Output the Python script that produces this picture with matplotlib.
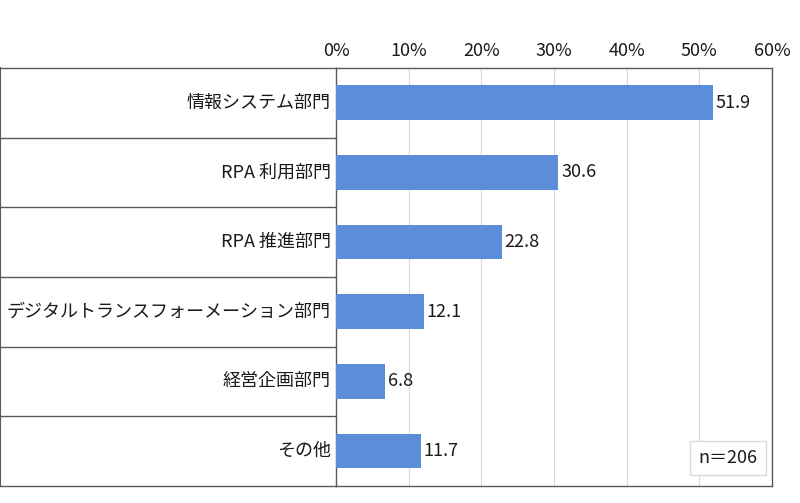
import matplotlib.pyplot as plt
from matplotlib.lines import Line2D

plt.rcParams['font.family'] = ['Noto Sans CJK JP', 'DejaVu Sans']

categories = ['情報システム部門', 'RPA 利用部門', 'RPA 推進部門',
              'デジタルトランスフォーメーション部門', '経営企画部門', 'その他']
values = [51.9, 30.6, 22.8, 12.1, 6.8, 11.7]
ticks = [0, 10, 20, 30, 40, 50, 60]
tick_labels = ['0%', '10%', '20%', '30%', '40%', '50%', '60%']
note = 'n＝206'

bar_color = '#5B8DD9'
frame_color = '#595959'
text_color = '#1a1a1a'
fs = 13

fig = plt.figure(figsize=(8, 5.03), dpi=100)
ax = fig.add_axes([0.42, 0.034, 0.545, 0.831])

y = list(range(len(categories)))
ax.barh(y, values, height=0.5, color=bar_color, zorder=3)
ax.set_ylim(len(categories) - 0.5, -0.5)
ax.set_xlim(0, 60)

ax.xaxis.tick_top()
ax.set_xticks(ticks)
ax.set_xticklabels(tick_labels, fontsize=fs, color=text_color)
ax.tick_params(axis='x', length=0, pad=6)
ax.set_yticks([])
ax.grid(axis='x', color='#D9D9D9', linewidth=0.8, zorder=0)

for s in ax.spines.values():
    s.set_color(frame_color)
    s.set_linewidth(1.0)

# value labels at the end of each bar
for yi, v in zip(y, values):
    ax.annotate('{:.1f}'.format(v), (v, yi), xytext=(2, 0),
                textcoords='offset points', ha='left', va='center',
                fontsize=fs, color=text_color, zorder=4)

# left label table (x in axes coords, y in data coords)
trans = ax.get_yaxis_transform()
left = -336 / 436
for i in range(len(categories) + 1):
    ax.add_line(Line2D([left, 0], [i - 0.5, i - 0.5], color=frame_color,
                       linewidth=1.0, transform=trans, clip_on=False))
ax.add_line(Line2D([left, left], [-0.5, len(categories) - 0.5], color=frame_color,
                   linewidth=1.5, transform=trans, clip_on=False))

for yi, c in zip(y, categories):
    ax.text(-0.012, yi, c, transform=trans, ha='right',
            va='center', fontsize=fs, color=text_color)

ax.text(0.899, 0.067, note, transform=ax.transAxes, ha='center', va='center',
        fontsize=fs, color=text_color, zorder=5,
        bbox=dict(boxstyle='square,pad=0.45', facecolor='white',
                  edgecolor='#D9D9D9', linewidth=1.0))

fig.savefig('out.png', dpi=100)
